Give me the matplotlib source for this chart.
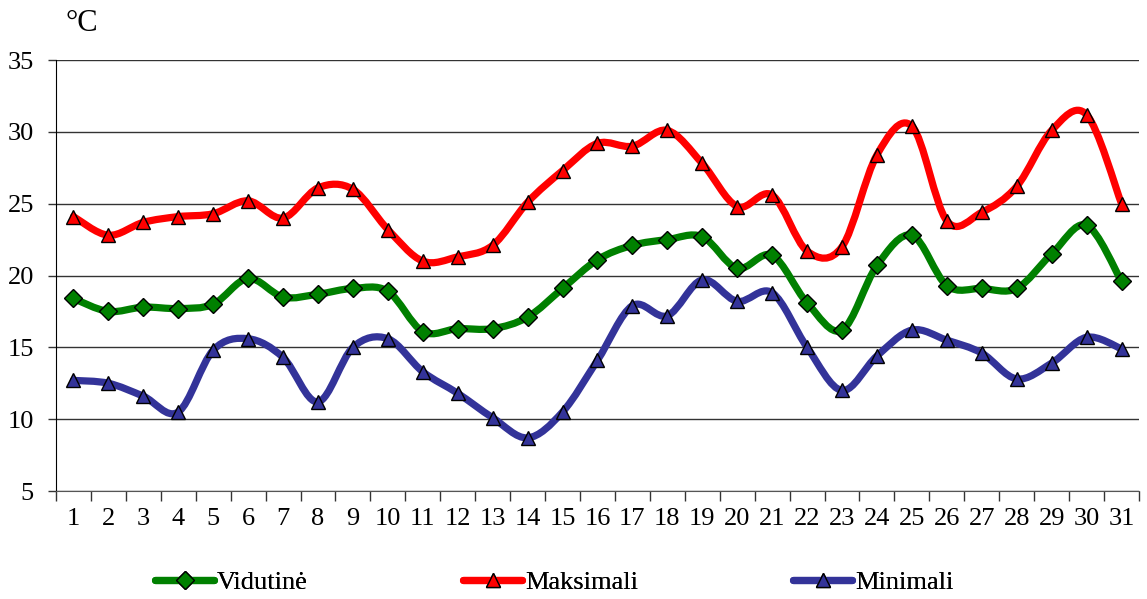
import numpy as np
import matplotlib
matplotlib.use('Agg')
import matplotlib.pyplot as plt
from matplotlib.path import Path
from matplotlib.patches import PathPatch
from matplotlib.lines import Line2D

# Dienos
dienos = list(range(1, 32))

# Temperatūros (°C)
vidutine = [18.4, 17.5, 17.8, 17.7, 18.0, 19.8, 18.5, 18.7, 19.1, 18.9,
            16.1, 16.3, 16.3, 17.1, 19.1, 21.1, 22.1, 22.5, 22.7, 20.5,
            21.4, 18.1, 16.2, 20.7, 22.8, 19.3, 19.1, 19.1, 21.5, 23.5, 19.6]
maksimali = [24.1, 22.8, 23.7, 24.1, 24.3, 25.2, 24.0, 26.1, 26.0, 23.2,
             21.0, 21.3, 22.1, 25.1, 27.3, 29.2, 29.0, 30.1, 27.8, 24.8,
             25.6, 21.7, 22.0, 28.4, 30.4, 23.8, 24.4, 26.2, 30.1, 31.2, 25.0]
minimali = [12.7, 12.5, 11.6, 10.5, 14.8, 15.6, 14.3, 11.2, 15.0, 15.6,
            13.3, 11.8, 10.1, 8.7, 10.5, 14.1, 17.9, 17.2, 19.7, 18.2,
            18.8, 15.0, 12.0, 14.4, 16.2, 15.5, 14.6, 12.8, 13.9, 15.7, 14.9]

serijos = [
    ('Vidutinė', vidutine, '#008000', 'D'),
    ('Maksimali', maksimali, '#FF0000', '^'),
    ('Minimali', minimali, '#333399', '^'),
]

plt.rcParams['font.family'] = ['Liberation Serif', 'DejaVu Serif']


def suglodinta_kelias(x, y, t=1.0 / 6):
    # Excel tipo glodinimas (Catmull-Rom -> Bezier)
    p = np.column_stack([x, y]).astype(float)
    n = len(p)
    verts = [p[0]]
    codes = [Path.MOVETO]
    for i in range(n - 1):
        p0 = p[i - 1] if i > 0 else p[i]
        p3 = p[i + 2] if i + 2 < n else p[i + 1]
        c1 = p[i] + (p[i + 1] - p0) * t
        c2 = p[i + 1] - (p3 - p[i]) * t
        verts += [c1, c2, p[i + 1]]
        codes += [Path.CURVE4] * 3
    return Path(verts, codes)


fig = plt.figure(figsize=(11.47, 5.99), dpi=100)
ax = fig.add_axes([0.0488, 0.1803, 0.9442, 0.7195])

for nm, vals, col, mk in serijos:
    ax.add_patch(PathPatch(suglodinta_kelias(dienos, vals), facecolor='none',
                           edgecolor=col, lw=5.2, capstyle='round',
                           joinstyle='round', zorder=3))
    ms = 9.5 if mk == 'D' else 10.5
    ax.plot(dienos, vals, ls='none', marker=mk, ms=ms, mfc=col, mec='black',
            mew=1.0, zorder=4)

ax.set_xlim(0.5, 31.5)
ax.set_ylim(5, 35)
ax.set_yticks(range(5, 36, 5))
ax.set_xticks(dienos)
ax.set_xticks(np.arange(0.5, 32, 1), minor=True)
ax.tick_params(axis='x', which='major', length=0, labelsize=19, pad=12)
ax.tick_params(axis='x', which='minor', length=7, width=1, direction='out',
               color='#333333')
ax.tick_params(axis='y', length=6, width=1, labelsize=19, pad=10,
               color='#333333')
ax.grid(axis='y', color='#333333', lw=1)
ax.set_axisbelow(True)
for s in ['top', 'right']:
    ax.spines[s].set_visible(False)
ax.spines['left'].set_color('black')
ax.spines['bottom'].set_color('#555555')

fig.text(0.057, 0.96, '°C', fontsize=22, ha='left', va='center')

# Legenda: trys atskiri įrašai
leg_x = [155, 463, 793]
for (nm, vals, col, mk), lx in zip(serijos, leg_x):
    h = Line2D([], [], color=col, lw=5.2, marker=mk,
               ms=(9.5 if mk == 'D' else 10.5), mfc=col, mec='black',
               mew=1.0, solid_capstyle='round')
    lg = fig.legend([h], [nm], loc='center left',
                    bbox_to_anchor=(lx / 1147.0, 1 - 582 / 599.0),
                    frameon=False, fontsize=19, handlelength=2.25,
                    handletextpad=0.1, borderpad=0, borderaxespad=0,
                    numpoints=1)
    fig.add_artist(lg)

fig.savefig('out.png', dpi=100)
